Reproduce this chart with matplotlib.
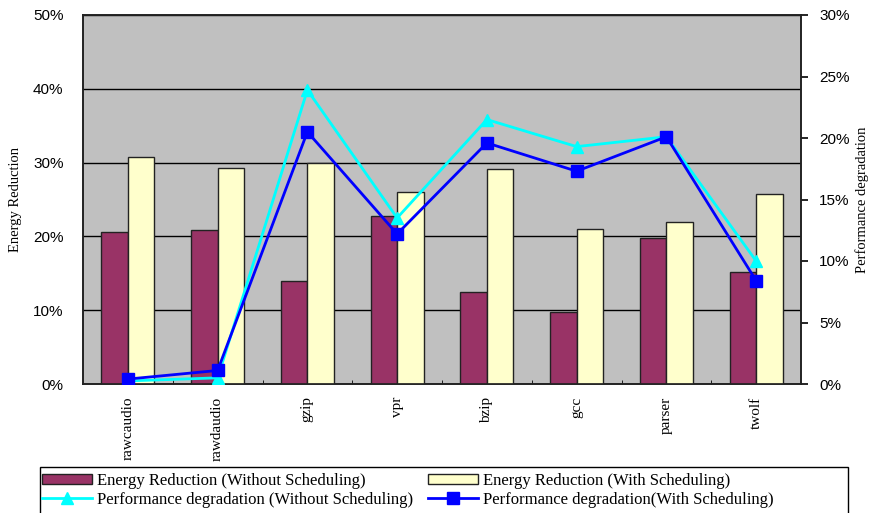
import matplotlib.pyplot as plt
from matplotlib.patches import Rectangle
import numpy as np

# benchmarks
benchmarks = ['rawcaudio', 'rawdaudio', 'gzip', 'vpr', 'bzip', 'gcc', 'parser', 'twolf']

# energy reduction (%), left axis
energy_wo = [20.6, 20.8, 13.9, 22.8, 12.5, 9.8, 19.8, 15.2]
energy_w = [30.8, 29.3, 29.9, 26.0, 29.1, 21.0, 22.0, 25.7]

# performance degradation (%), right axis
perf_wo = [0.25, 0.5, 23.9, 13.5, 21.5, 19.3, 20.1, 10.0]
perf_w = [0.4, 1.1, 20.5, 12.2, 19.6, 17.3, 20.1, 8.4]

serif = ['Liberation Serif', 'DejaVu Serif']
sans = ['Liberation Sans', 'DejaVu Sans']

fig = plt.figure(figsize=(8.7, 5.13), dpi=100)
ax = fig.add_axes([83 / 870, 1 - 384 / 513, (801 - 83) / 870, (384 - 15) / 513])
ax.set_facecolor('#C0C0C0')

x = np.arange(len(benchmarks))
w = 0.295
b1 = ax.bar(x - w / 2, energy_wo, w, color='#993366', edgecolor='#222222', linewidth=1.0,
            label='Energy Reduction (Without Scheduling)', zorder=3)
b2 = ax.bar(x + w / 2, energy_w, w, color='#FFFFCC', edgecolor='#222222', linewidth=1.0,
            label='Energy Reduction (With Scheduling)', zorder=3)

ax.set_xlim(-0.5, len(benchmarks) - 0.5)
ax.set_ylim(0, 50)
ax.set_yticks(np.arange(0, 51, 10))
ax.set_yticklabels([f'{v}%' for v in range(0, 51, 10)], fontfamily=sans, fontsize=11)
ax.yaxis.grid(True, color='black', linewidth=1.0, zorder=0)
ax.tick_params(axis='y', length=0, pad=14)
ax.set_xticks(x)
ax.set_xticklabels(benchmarks, rotation=90, fontfamily=serif, fontsize=11, va='top')
ax.tick_params(axis='x', length=0, pad=9)
ax.set_xticks(np.arange(0.5, len(benchmarks) - 0.5, 1), minor=True)
ax.tick_params(axis='x', which='minor', direction='in', length=3)
ax.set_ylabel('Energy Reduction', fontfamily=serif, fontsize=10.5, labelpad=8)
for s in ax.spines.values():
    s.set_linewidth(1.2)
    s.set_color('#222222')

ax2 = ax.twinx()
l1, = ax2.plot(x, perf_wo, color='#00FFFF', linewidth=2, marker='^', markersize=9,
               label='Performance degradation (Without Scheduling)', zorder=4)
l2, = ax2.plot(x, perf_w, color='#0000FF', linewidth=2, marker='s', markersize=9,
               label='Performance degradation(With Scheduling)', zorder=5)
ax2.set_ylim(0, 30)
ax2.set_yticks(np.arange(0, 31, 5))
ax2.set_yticklabels([f'{v}%' for v in range(0, 31, 5)], fontfamily=sans, fontsize=11)
ax2.tick_params(axis='y', direction='out', length=5, width=1.2, pad=8)
ax2.set_ylabel('Performance degradation', fontfamily=serif, fontsize=10.5, rotation=90, labelpad=4)
for s in ax2.spines.values():
    s.set_linewidth(1.2)
    s.set_color('#222222')

# legend frame runs off the bottom of the picture, as in the original
frame = Rectangle((40 / 870, -0.05), (848 - 40) / 870, 0.05 + (513 - 467) / 513,
                  transform=fig.transFigure, facecolor='white', edgecolor='black',
                  linewidth=1.0, zorder=1)
fig.patches.append(frame)

leg = fig.legend([b1, l1, b2, l2],
                 [b1.get_label(), l1.get_label(), b2.get_label(), l2.get_label()],
                 ncol=2, loc='upper left', bbox_to_anchor=(42 / 870, 1 - 473 / 513),
                 prop={'family': serif, 'size': 12}, frameon=False,
                 borderpad=0.0, labelspacing=0.15, handlelength=3.0, handleheight=0.6,
                 handletextpad=0.3, columnspacing=0.9, borderaxespad=0)
leg.set_zorder(2)

fig.savefig('out.png', dpi=100)
